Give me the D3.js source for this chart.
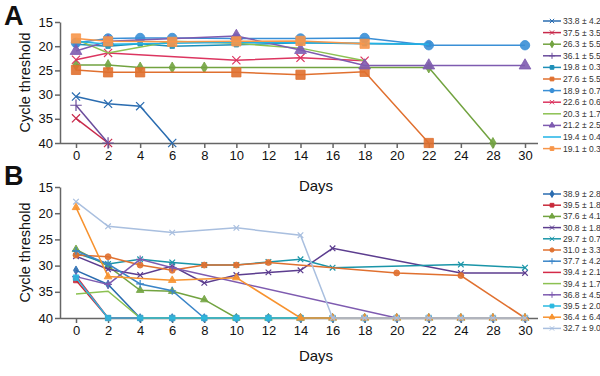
<!DOCTYPE html>
<html>
<head>
<meta charset="utf-8">
<script src="https://cdn.jsdelivr.net/npm/d3@7"></script>
<style>
  body { margin: 0; background: #fff; }
  text { font-family: Arial, "Liberation Sans", sans-serif; }
</style>
</head>
<body>
<div id="chart"></div>
<script>
// tick labels on the day axis (categorical, 26 is skipped)
const dayTicks = ["0", "2", "4", "6", "8", "10", "12", "14", "16", "18", "20", "22", "24", "28", "30"];
const ctTicks = [15, 20, 25, 30, 35, 40];

// panel A: legend labels and [day, Ct] series
const labelsA = ["33.8 ± 4.2", "37.5 ± 3.5", "26.3 ± 5.5", "36.1 ± 5.5", "19.8 ± 0.3", "27.6 ± 5.5",
    "18.9 ± 0.7", "22.6 ± 0.6", "20.3 ± 1.7", "21.2 ± 2.5", "19.4 ± 0.4", "19.1 ± 0.3"];
const seriesA = [
    [[0, 30.4], [2, 31.9], [4, 32.4], [6, 40]],
    [[0, 34.9], [2, 40]],
    [[0, 23.9], [2, 23.9], [4, 24.4], [6, 24.4], [8, 24.4], [22, 24.4], [28, 40]],
    [[0, 32.2], [2, 40]],
    [[0, 19.6], [2, 20.0], [4, 19.5], [6, 20.0], [10, 19.7], [14, 19.3], [18, 19.5], [22, 19.6]],
    [[0, 24.9], [2, 25.4], [4, 25.4], [10, 25.4], [14, 25.9], [18, 25.3], [22, 40]],
    [[0, 19.3], [2, 18.4], [4, 18.3], [6, 18.3], [10, 18.4], [14, 18.4], [18, 18.3], [22, 19.8], [30, 19.8]],
    [[0, 22.8], [2, 21.4], [10, 22.9], [14, 22.4], [18, 23.0]],
    [[0, 18.6], [2, 21.4], [6, 19.0], [10, 19.4], [14, 20.4], [18, 23.0]],
    [[0, 21.0], [2, 19.0], [10, 17.9], [14, 20.8], [18, 24.0], [22, 24.0], [30, 24.0]],
    [[0, 19.0], [2, 19.6], [6, 19.4], [10, 19.2], [14, 19.3], [18, 19.4], [22, 19.6]],
    [[0, 18.4], [2, 19.0], [6, 19.1], [10, 19.0], [14, 18.9], [18, 19.5]]
];

// panel B
const labelsB = ["38.9 ± 2.8", "39.5 ± 1.8", "37.6 ± 4.1", "30.8 ± 1.8", "29.7 ± 0.7", "31.0 ± 3.3",
    "37.7 ± 4.2", "39.4 ± 2.1", "39.4 ± 1.7", "36.8 ± 4.5", "39.5 ± 2.0", "36.4 ± 6.4", "32.7 ± 9.0"];
const seriesB = [
    [[0, 30.9], [2, 33.6], [4, 40], [6, 40], [8, 40], [10, 40], [12, 40], [14, 40], [16, 40], [18, 40], [20, 40], [22, 40], [24, 40], [28, 40], [30, 40]],
    [[0, 32.8], [2, 40], [4, 40], [6, 40], [8, 40], [10, 40], [12, 40], [14, 40], [16, 40], [18, 40], [20, 40], [22, 40], [24, 40], [28, 40], [30, 40]],
    [[0, 26.9], [2, 30.1], [4, 34.7], [6, 34.9], [8, 36.5], [10, 40], [12, 40], [14, 40], [16, 40], [18, 40], [20, 40], [22, 40], [24, 40], [28, 40], [30, 40]],
    [[0, 28.2], [2, 30.7], [4, 31.8], [6, 30.1], [8, 33.3], [10, 31.8], [12, 31.3], [14, 30.9], [16, 26.7], [24, 31.4], [30, 31.4]],
    [[0, 27.6], [2, 29.7], [4, 28.8], [6, 29.4], [8, 29.9], [10, 29.9], [12, 29.3], [14, 28.8], [16, 30.4], [24, 29.8], [30, 30.4]],
    [[0, 28.0], [2, 28.3], [4, 29.9], [6, 30.9], [8, 29.9], [10, 29.9], [12, 29.4], [20, 31.4], [24, 31.9], [30, 40]],
    [[0, 27.2], [2, 29.7], [4, 33.5], [6, 34.8], [8, 40], [10, 40], [12, 40], [14, 40], [16, 40], [18, 40], [20, 40], [22, 40], [24, 40], [28, 40], [30, 40]],
    [[0, 32.0], [2, 40], [4, 40], [6, 40], [8, 40], [10, 40], [12, 40], [14, 40], [16, 40], [18, 40], [20, 40], [22, 40], [24, 40], [28, 40], [30, 40]],
    [[0, 35.4], [2, 34.9], [4, 40], [6, 40], [8, 40], [10, 40], [12, 40], [14, 40], [16, 40], [18, 40], [20, 40], [22, 40], [24, 40], [28, 40], [30, 40]],
    [[0, 32.1], [2, 33.6], [4, 28.8], [6, 30.4], [20, 40], [22, 40], [24, 40], [28, 40], [30, 40]],
    [[0, 32.3], [2, 40], [4, 40], [6, 40], [8, 40], [10, 40], [12, 40], [14, 40], [16, 40], [18, 40], [20, 40], [22, 40], [24, 40], [28, 40], [30, 40]],
    [[0, 18.9], [2, 32.1], [6, 32.8], [10, 32.3], [14, 40], [16, 40], [18, 40], [20, 40], [22, 40], [24, 40], [28, 40], [30, 40]],
    [[0, 17.8], [2, 22.5], [6, 23.7], [10, 22.8], [14, 24.2], [16, 40], [18, 40], [20, 40], [22, 40], [24, 40], [28, 40], [30, 40]]
];

// styles
const colorsA = ["#2a6cb0", "#c8284a", "#72a340", "#6a4c9c", "#1e8fb8", "#e0702f",
    "#3a8fd6", "#dc3560", "#8cc152", "#7e5bb0", "#21b3e6", "#f7964a"];
const markersA = ["times", "times", "diamond", "plus", "square", "square",
    "circle", "times", null, "triangle", null, "square"];
const sizesA = [45, 45, 35, 45, 20, 85, 70, 45, 0, 60, 0, 85];
const colorsB = ["#2a6cb0", "#c82a3a", "#72a340", "#5c3d8f", "#1a95a8", "#e0702f",
    "#3a85c8", "#d42a48", "#8cc152", "#7e5bb0", "#2ab8e0", "#f7922e", "#a9bfdf"];
const markersB = ["diamond", "square", "triangle", "times", "times", "circle",
    "plus", null, null, "plus", "square", "triangle", "times"];
const sizesB = [22, 25, 25, 22, 22, 28, 22, 0, 0, 22, 30, 25, 22];

const W = 600, H = 376;
const svg = d3.select("#chart").append("svg").attr("width", W).attr("height", H);

const x = d3.scalePoint().domain(dayTicks).range([76, 525]);
const axisColor = "#666";

const symbolTypes = {
    circle: d3.symbolCircle, square: d3.symbolSquare, diamond: d3.symbolDiamond,
    triangle: d3.symbolTriangle, plus: d3.symbolPlus, times: d3.symbolTimes
};
const strokeOnly = { plus: true, times: true };

function drawPanel(opt) {
    const y = d3.scaleLinear().domain([15, 40]).range([opt.top, opt.bottom]);
    const g = svg.append("g");

    // y axis
    const ya = g.append("g").attr("transform", "translate(60,0)")
        .call(d3.axisLeft(y).tickValues(ctTicks).tickSize(5).tickSizeOuter(0));
    // x axis
    const xa = g.append("g").attr("transform", `translate(0,${opt.bottom})`)
        .call(d3.axisBottom(x).tickSize(5).tickSizeOuter(0));
    xa.select(".domain").attr("d", `M60,0.5H538`);
    [ya, xa].forEach(a => {
        a.selectAll("path, line").attr("stroke", axisColor).attr("stroke-width", 1.5);
        a.selectAll("text").attr("fill", "#111").style("font-size", "13px");
    });
    ya.selectAll("text").attr("x", -7);
    xa.selectAll("text").attr("y", 8);

    g.append("text").attr("transform", `translate(25,${(opt.top + opt.bottom) / 2}) rotate(-90)`)
        .attr("text-anchor", "middle").attr("dy", "0.35em")
        .style("font-size", "14.5px").attr("fill", "#111").text("Cycle threshold");
    g.append("text").attr("x", 316).attr("y", opt.daysY).attr("text-anchor", "middle")
        .style("font-size", "15px").attr("fill", "#111").text("Days");
    g.append("text").attr("x", 4).attr("y", opt.letterY)
        .style("font-size", "27px").style("font-weight", "bold").attr("fill", "#111").text(opt.letter);

    const line = d3.line().x(d => x(String(d[0]))).y(d => y(d[1]));

    opt.series.forEach((s, i) => {
        const c = opt.colors[i];
        g.append("path").datum(s).attr("d", line)
            .attr("fill", "none").attr("stroke", c).attr("stroke-width", 1.5);
        const m = opt.markers[i];
        if (!m) return;
        const sym = d3.symbol().type(symbolTypes[m]).size(opt.sizes[i]);
        g.selectAll(null).data(s).enter().append("path")
            .attr("transform", d => `translate(${x(String(d[0]))},${y(d[1])})`)
            .attr("d", sym)
            .attr("fill", strokeOnly[m] ? "none" : c)
            .attr("stroke", c).attr("stroke-width", strokeOnly[m] ? 1.2 : 0.8)
            .attr("fill-opacity", 0.9);
    });

    // legend
    const lg = g.append("g");
    opt.labels.forEach((lab, i) => {
        const ly = opt.legTop + i * opt.legStep;
        const c = opt.colors[i];
        lg.append("line").attr("x1", 543).attr("x2", 561).attr("y1", ly).attr("y2", ly)
            .attr("stroke", c).attr("stroke-width", 1.5);
        const m = opt.markers[i];
        if (m) {
            lg.append("path").attr("transform", `translate(552,${ly})`)
                .attr("d", d3.symbol().type(symbolTypes[m]).size(14))
                .attr("fill", strokeOnly[m] ? "none" : c).attr("stroke", c).attr("stroke-width", 1);
        }
        lg.append("text").attr("x", 563).attr("y", ly).attr("dy", "0.35em")
            .style("font-size", "8.5px").attr("fill", "#333").text(lab);
    });
}

drawPanel({
    top: 22, bottom: 143, series: seriesA, labels: labelsA, colors: colorsA, markers: markersA,
    sizes: sizesA, letter: "A", letterY: 25, daysY: 191, legTop: 21, legStep: 11.6
});
drawPanel({
    top: 187, bottom: 318, series: seriesB, labels: labelsB, colors: colorsB, markers: markersB,
    sizes: sizesB, letter: "B", letterY: 185, daysY: 361, legTop: 194, legStep: 11.2
});
</script>
</body>
</html>
